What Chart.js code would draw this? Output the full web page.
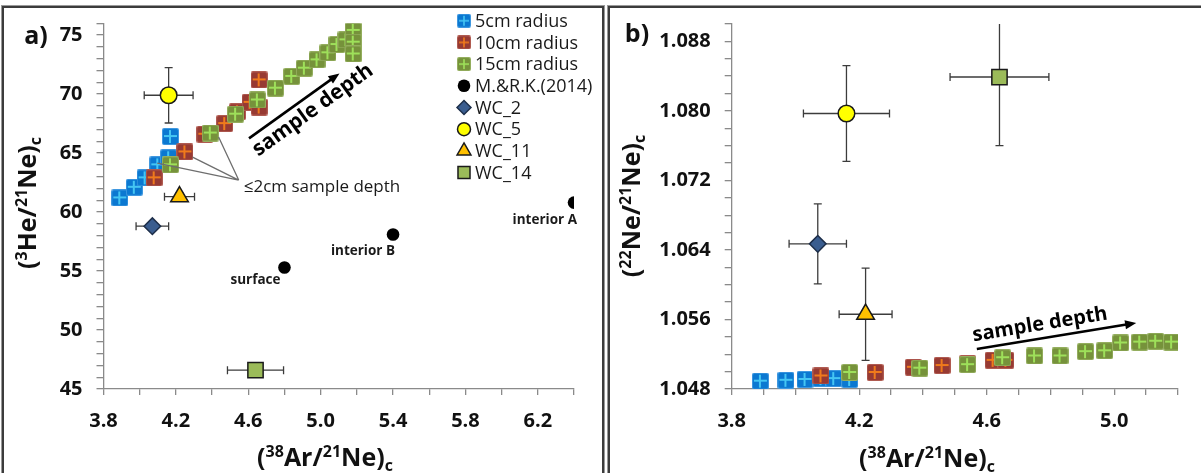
<!DOCTYPE html>
<html>
<head>
<meta charset="utf-8">
<title>He, Ne and Ar ratios</title>
<script src="https://cdn.jsdelivr.net/npm/chart.js@4.4.1/dist/chart.umd.min.js"></script>
<style>
    html, body { margin: 0; padding: 0; background: #fff; overflow: hidden; }
    body { width: 1201px; height: 473px; position: relative; }
    .frame {
        position: absolute;
        top: 6px;
        height: 480px;
        box-sizing: border-box;
        border: 2px solid #3c3c3c;
        box-shadow: 0 0 0 1px #9a9a9a;
    }
    #frame-a { left: 2px; width: 602px; }
    #frame-b { left: 608px; width: 600px; }
    canvas { position: absolute; }
    #chart-a { left: 5px; top: 9px; }
    #chart-b { left: 611px; top: 9px; }
</style>
</head>
<body>
<div class="frame" id="frame-a"></div>
<div class="frame" id="frame-b"></div>
<canvas id="chart-a" width="596" height="464"></canvas>
<canvas id="chart-b" width="590" height="464"></canvas>

<script>
// Tick labels
const heTicks = [45, 50, 55, 60, 65, 70, 75];
const neTicks = [1.048, 1.056, 1.064, 1.072, 1.080, 1.088];
const arTicksA = [3.8, 4.2, 4.6, 5.0, 5.4, 5.8, 6.2];
const arTicksB = [3.8, 4.2, 4.6, 5.0];

// Model profiles, 3He/21Ne vs 38Ar/21Ne
const blueArA = [3.89, 3.97, 4.03, 4.10, 4.16, 4.17];
const blueHe = [61.2, 62.1, 62.9, 64.0, 64.6, 66.4];
const redArA = [4.08, 4.25, 4.36, 4.47, 4.54, 4.61, 4.66, 4.66];
const redHe = [62.9, 65.1, 66.6, 67.5, 68.5, 69.3, 68.9, 71.2];
const greenArA = [4.17, 4.39, 4.53, 4.65, 4.75, 4.84, 4.91, 4.98, 5.04, 5.09, 5.14, 5.18, 5.18, 5.18];
const greenHe = [64.0, 66.7, 68.3, 69.5, 70.5, 71.5, 72.2, 72.9, 73.5, 74.2, 74.6, 75.4, 74.4, 73.4];

// Model profiles, 22Ne/21Ne vs 38Ar/21Ne
const blueArB = [3.89, 3.97, 4.03, 4.08, 4.12, 4.17];
const blueNe = [1.0489, 1.0490, 1.0491, 1.0492, 1.0492, 1.0491];
const redArB = [4.08, 4.25, 4.37, 4.46, 4.54, 4.62, 4.66];
const redNe = [1.0495, 1.0499, 1.0505, 1.0507, 1.0509, 1.0513, 1.0513];
const greenArB = [4.17, 4.39, 4.54, 4.65, 4.75, 4.83, 4.91, 4.97, 5.02, 5.08, 5.13, 5.18];
const greenNe = [1.0499, 1.0504, 1.0508, 1.0516, 1.0518, 1.0518, 1.0523, 1.0524, 1.0533, 1.0534, 1.0535, 1.0534];

// Measured samples with 1-sigma errors
const wcNames = ['WC_2', 'WC_5', 'WC_11', 'WC_14'];
const wcAr = [4.07, 4.16, 4.22, 4.64];
const wcArErr = [0.09, 0.135, 0.083, 0.155];
const wcHe = [58.8, 69.9, 61.3, 46.6];
const wcHeErr = [0.3, 2.35, 0.3, 0.3];
const wcNe = [1.0647, 1.0797, 1.0566, 1.0839];
const wcNeErr = [0.0046, 0.0055, 0.0053, 0.0079];

// M.&R.K. (2014) model points
const mrkNames = ['surface', 'interior B', 'interior A'];
const mrkAr = [4.80, 5.40, 6.40];
const mrkHe = [55.3, 58.1, 60.8];

const FONT = "'Open Sans', 'Liberation Sans', sans-serif";
Chart.defaults.font.family = FONT;

const pts = (xs, ys) => xs.map((x, i) => ({ x: x, y: ys[i] }));
const near = (list, v) => list.some(t => Math.abs(t - v) < 1e-6);

// Square marker with a plus cross, as used for the model runs
function crossSquare(fill, edge, cross, size) {
    const c = document.createElement('canvas');
    c.width = size;
    c.height = size;
    const g = c.getContext('2d');
    g.fillStyle = edge;
    g.beginPath();
    g.roundRect(0, 0, size, size, 2);
    g.fill();
    g.fillStyle = fill;
    g.beginPath();
    g.roundRect(1, 1, size - 2, size - 2, 1.5);
    g.fill();
    const m = Math.floor(size / 2);
    const lw = size > 14 ? 2 : 1.6;
    g.fillStyle = cross;
    g.fillRect(m - lw / 2, 2, lw, size - 4);
    g.fillRect(2, m - lw / 2, size - 4, lw);
    return c;
}

const blueMark = crossSquare('#0b78d1', '#3f98e0', '#45c6f3', 17);
const redMark = crossSquare('#973a33', '#b05b51', '#f07a1c', 17);
const greenMark = crossSquare('#76923b', '#94ae5e', '#9ee05a', 17);
const blueSmall = crossSquare('#0b78d1', '#3f98e0', '#45c6f3', 14);
const redSmall = crossSquare('#973a33', '#b05b51', '#f07a1c', 14);
const greenSmall = crossSquare('#76923b', '#94ae5e', '#9ee05a', 14);

const wcStyles = [
    { pointStyle: 'rectRot', radius: 8.3, legendRadius: 7, bg: '#3a5d8f', border: '#1e2f4a' },
    { pointStyle: 'circle', radius: 8.3, legendRadius: 6.5, bg: '#ffff00', border: '#1a1a1a' },
    { pointStyle: 'triangle', radius: 10.2, legendRadius: 8, bg: '#ffc000', border: '#1a1a1a' },
    { pointStyle: 'rect', radius: 10.8, legendRadius: 8.5, bg: '#9bbb59', border: '#1a1a1a' }
];

function modelSet(label, data, mark, small, order) {
    return {
        label: label,
        data: data,
        pointStyle: mark,
        legendMark: small,
        pointRadius: 8.5,
        order: order
    };
}

function sampleSets(yVals, yErr) {
    return wcNames.map((name, i) => ({
        label: name,
        data: [{ x: wcAr[i], y: yVals[i] }],
        xErr: [wcArErr[i]],
        yErr: [yErr[i]],
        pointStyle: wcStyles[i].pointStyle,
        pointRadius: wcStyles[i].radius,
        legendRadius: wcStyles[i].legendRadius,
        backgroundColor: wcStyles[i].bg,
        borderColor: wcStyles[i].border,
        pointBackgroundColor: wcStyles[i].bg,
        pointBorderColor: wcStyles[i].border,
        pointBorderWidth: 1.5,
        borderWidth: 1.5,
        order: 1
    }));
}

// Axis titles with super/subscripts: [text, kind]
const arTitle = [['(', ''], ['38', 'sup'], ['Ar/', ''], ['21', 'sup'], ['Ne)', ''], ['c', 'sub']];
const heTitle = [['(', ''], ['3', 'sup'], ['He/', ''], ['21', 'sup'], ['Ne)', ''], ['c', 'sub']];
const neTitle = [['(', ''], ['22', 'sup'], ['Ne/', ''], ['21', 'sup'], ['Ne)', ''], ['c', 'sub']];

function drawRich(ctx, parts, cx, cy, rotate) {
    const big = 'bold 25px ' + FONT;
    const small = 'bold 16px ' + FONT;
    let total = 0;
    const widths = parts.map(p => {
        ctx.font = p[1] ? small : big;
        const w = ctx.measureText(p[0]).width;
        total += w;
        return w;
    });
    ctx.save();
    ctx.translate(cx, cy);
    if (rotate) ctx.rotate(-Math.PI / 2);
    ctx.fillStyle = '#111';
    ctx.textAlign = 'left';
    ctx.textBaseline = 'alphabetic';
    let x = -total / 2;
    parts.forEach((p, i) => {
        ctx.font = p[1] ? small : big;
        const dy = p[1] === 'sup' ? -9 : (p[1] === 'sub' ? 5 : 0);
        ctx.fillText(p[0], x, 9 + dy);
        x += widths[i];
    });
    ctx.restore();
}

function drawArrow(ctx, x0, y0, x1, y1) {
    const ang = Math.atan2(y1 - y0, x1 - x0);
    const h = 12;
    ctx.lineWidth = 2.6;
    ctx.beginPath();
    ctx.moveTo(x0, y0);
    ctx.lineTo(x1 - Math.cos(ang) * h * 0.7, y1 - Math.sin(ang) * h * 0.7);
    ctx.stroke();
    ctx.beginPath();
    ctx.moveTo(x1, y1);
    ctx.lineTo(x1 - h * Math.cos(ang - 0.38), y1 - h * Math.sin(ang - 0.38));
    ctx.lineTo(x1 - h * Math.cos(ang + 0.38), y1 - h * Math.sin(ang + 0.38));
    ctx.closePath();
    ctx.fill();
}

const panelExtras = {
    id: 'panelExtras',
    beforeDatasetsDraw(chart) {
        // error bars sit under the markers
        const { ctx, chartArea: a, scales: { x, y } } = chart;
        ctx.save();
        ctx.beginPath();
        ctx.rect(a.left, a.top, a.width, a.height);
        ctx.clip();
        ctx.strokeStyle = '#3c3c3c';
        ctx.lineWidth = 1.3;
        const cap = 4;
        chart.data.datasets.forEach(ds => {
            if (!ds.xErr) return;
            ds.data.forEach((p, i) => {
                const px = x.getPixelForValue(p.x);
                const py = y.getPixelForValue(p.y);
                const xl = x.getPixelForValue(p.x - ds.xErr[i]);
                const xr = x.getPixelForValue(p.x + ds.xErr[i]);
                const yt = y.getPixelForValue(p.y + ds.yErr[i]);
                const yb = y.getPixelForValue(p.y - ds.yErr[i]);
                ctx.beginPath();
                ctx.moveTo(xl, py); ctx.lineTo(xr, py);
                ctx.moveTo(xl, py - cap); ctx.lineTo(xl, py + cap);
                ctx.moveTo(xr, py - cap); ctx.lineTo(xr, py + cap);
                ctx.moveTo(px, yt); ctx.lineTo(px, yb);
                ctx.moveTo(px - cap, yt); ctx.lineTo(px + cap, yt);
                ctx.moveTo(px - cap, yb); ctx.lineTo(px + cap, yb);
                ctx.stroke();
            });
        });
        ctx.restore();
    },
    afterDraw(chart, args, opts) {
        const { ctx, scales: { x, y } } = chart;
        const px = v => x.getPixelForValue(v);
        const py = v => y.getPixelForValue(v);
        ctx.save();

        // panel letter and axis titles
        ctx.fillStyle = '#111';
        ctx.font = 'bold 25px ' + FONT;
        ctx.textAlign = 'center';
        ctx.textBaseline = 'middle';
        ctx.fillText(opts.letter.text, opts.letter.x, opts.letter.y);
        drawRich(ctx, opts.xTitle.parts, opts.xTitle.x, opts.xTitle.y, false);
        drawRich(ctx, opts.yTitle.parts, opts.yTitle.x, opts.yTitle.y, true);

        // "sample depth" arrow
        const d = opts.depth;
        const x0 = px(d.from[0]), y0 = py(d.from[1]);
        const x1 = px(d.to[0]), y1 = py(d.to[1]);
        ctx.strokeStyle = '#000';
        ctx.fillStyle = '#000';
        drawArrow(ctx, x0, y0, x1, y1);
        ctx.save();
        ctx.translate(px(d.text[0]), py(d.text[1]));
        ctx.rotate(Math.atan2(y1 - y0, x1 - x0));
        ctx.font = 'bold ' + d.size + 'px ' + FONT;
        ctx.textAlign = 'center';
        ctx.textBaseline = 'middle';
        ctx.fillText('sample depth', 0, 0);
        ctx.restore();

        // shallow samples call-out
        if (opts.shallow) {
            const s = opts.shallow;
            ctx.strokeStyle = '#6e6e6e';
            ctx.lineWidth = 1.3;
            ctx.beginPath();
            s.targets.forEach(t => {
                ctx.moveTo(px(s.hub[0]), py(s.hub[1]));
                ctx.lineTo(px(t[0]), py(t[1]));
            });
            ctx.stroke();
            ctx.fillStyle = '#1a1a1a';
            ctx.font = '17px ' + FONT;
            ctx.textAlign = 'left';
            ctx.textBaseline = 'middle';
            ctx.fillText('\u22642cm sample depth', px(s.text[0]), py(s.text[1]));
        }

        // names of the M.&R.K. points
        if (opts.dotLabels) {
            const ds = chart.data.datasets[opts.dotLabels.dataset];
            ctx.fillStyle = '#1a1a1a';
            ctx.font = 'bold 13.5px ' + FONT;
            ctx.textAlign = 'right';
            ctx.textBaseline = 'middle';
            ds.data.forEach((p, i) => {
                const off = opts.dotLabels.offsets[i];
                ctx.fillText(ds.pointLabels[i], px(p.x) + off[0], py(p.y) + off[1]);
            });
        }

        // legend
        if (opts.legend) {
            const L = opts.legend;
            ctx.font = '18px ' + FONT;
            ctx.textAlign = 'left';
            ctx.textBaseline = 'middle';
            chart.data.datasets.forEach((ds, i) => {
                const cy = L.y + i * L.step;
                if (ds.legendMark) {
                    const m = ds.legendMark;
                    ctx.drawImage(m, L.x - m.width / 2, cy - m.height / 2);
                } else {
                    ctx.fillStyle = ds.pointBackgroundColor;
                    ctx.strokeStyle = ds.pointBorderColor;
                    ctx.lineWidth = ds.pointBorderWidth;
                    Chart.helpers.drawPoint(ctx, {
                        pointStyle: ds.pointStyle,
                        radius: ds.legendRadius,
                        borderWidth: ds.pointBorderWidth,
                        rotation: 0
                    }, L.x, cy);
                }
                ctx.fillStyle = '#1a1a1a';
                ctx.fillText(ds.label, L.x + 11, cy + 1);
            });
        }
        ctx.restore();
    }
};

// fixed axis sizes, no extra room for overhanging labels
function fixSize(s, key, size) {
    s[key] = size;
    s.paddingTop = 0;
    s.paddingBottom = 0;
    s.paddingLeft = 0;
    s.paddingRight = 0;
}

function axisX(min, max, step, labels, height) {
    return {
        type: 'linear',
        min: min,
        max: max,
        border: { color: '#8a8a8a', width: 1.3 },
        grid: { drawOnChartArea: false, drawTicks: true, tickLength: 6, color: '#8a8a8a', lineWidth: 1.3 },
        ticks: {
            stepSize: step,
            autoSkip: false,
            maxTicksLimit: 100,
            maxRotation: 0,
            padding: 14,
            color: '#111',
            font: { size: 20, weight: 'bold' },
            callback: v => near(labels, v) ? v.toFixed(1) : ''
        },
        afterFit: s => fixSize(s, 'height', height)
    };
}

function axisY(min, max, step, labels, digits, width) {
    return {
        type: 'linear',
        min: min,
        max: max,
        border: { color: '#8a8a8a', width: 1.3 },
        grid: { drawOnChartArea: false, drawTicks: true, tickLength: 7, color: '#8a8a8a', lineWidth: 1.3 },
        ticks: {
            stepSize: step,
            autoSkip: false,
            maxTicksLimit: 100,
            padding: 14,
            color: '#111',
            font: { size: 20, weight: 'bold' },
            callback: v => near(labels, v) ? v.toFixed(digits) : ''
        },
        afterFit: s => fixSize(s, 'width', width)
    };
}

const baseOptions = {
    responsive: false,
    animation: false,
    events: [],
    plugins: { legend: { display: false }, tooltip: { enabled: false } }
};

// a) 3He/21Ne
const mrkSet = {
    label: 'M.&R.K.(2014)',
    data: pts(mrkAr, mrkHe),
    pointLabels: mrkNames,
    pointStyle: 'circle',
    pointRadius: 6.3,
    legendRadius: 6.3,
    backgroundColor: '#000',
    borderColor: '#000',
    pointBackgroundColor: '#000',
    pointBorderColor: '#000',
    pointBorderWidth: 0,
    order: 2
};

new Chart(document.getElementById('chart-a'), {
    type: 'scatter',
    data: {
        datasets: [
            modelSet('5cm radius', pts(blueArA, blueHe), blueMark, blueSmall, 7),
            modelSet('10cm radius', pts(redArA, redHe), redMark, redSmall, 6),
            modelSet('15cm radius', pts(greenArA, greenHe), greenMark, greenSmall, 5),
            mrkSet
        ].concat(sampleSets(wcHe, wcHeErr))
    },
    options: Object.assign({}, baseOptions, {
        layout: { padding: { top: 14.3, right: 27, left: 0, bottom: 0 } },
        scales: {
            x: axisX(3.8, 6.4, 0.2, arTicksA, 84),
            y: axisY(45, 76, 1, heTicks, 0, 98.5)
        },
        plugins: Object.assign({}, baseOptions.plugins, {
            panelExtras: {
                letter: { text: 'a)', x: 31, y: 28 },
                xTitle: { parts: arTitle, x: 320, y: 447.5 },
                yTitle: { parts: heTitle, x: 21.7, y: 194 },
                depth: { from: [4.604, 66.25], to: [5.104, 71.75], text: [4.957, 68.64], size: 21 },
                shallow: {
                    text: [4.575, 62.12],
                    hub: [4.547, 62.71],
                    targets: [[4.097, 64.15], [4.292, 64.66], [4.436, 66.36]]
                },
                dotLabels: { dataset: 3, offsets: [[-4, 13], [2, 17], [3, 18]] },
                legend: { x: 459, y: 11.7, step: 21.7 }
            }
        })
    }),
    plugins: [panelExtras]
});

// b) 22Ne/21Ne
new Chart(document.getElementById('chart-b'), {
    type: 'scatter',
    data: {
        datasets: [
            modelSet('5cm radius', pts(blueArB, blueNe), blueMark, blueSmall, 7),
            modelSet('10cm radius', pts(redArB, redNe), redMark, redSmall, 6),
            modelSet('15cm radius', pts(greenArB, greenNe), greenMark, greenSmall, 5)
        ].concat(sampleSets(wcNe, wcNeErr))
    },
    options: Object.assign({}, baseOptions, {
        layout: { padding: { top: 15, right: 23, left: 0, bottom: 0 } },
        scales: {
            x: axisX(3.8, 5.2, 0.1, arTicksB, 84),
            y: axisY(1.048, 1.090, 0.002, neTicks, 3, 120.7)
        },
        plugins: Object.assign({}, baseOptions.plugins, {
            panelExtras: {
                letter: { text: 'b)', x: 26, y: 26 },
                xTitle: { parts: arTitle, x: 316, y: 448.5 },
                yTitle: { parts: neTitle, x: 19.8, y: 197 },
                depth: { from: [4.569, 1.0526], to: [5.069, 1.0556], text: [4.767, 1.0554], size: 20 }
            }
        })
    }),
    plugins: [panelExtras]
});
</script>
</body>
</html>
